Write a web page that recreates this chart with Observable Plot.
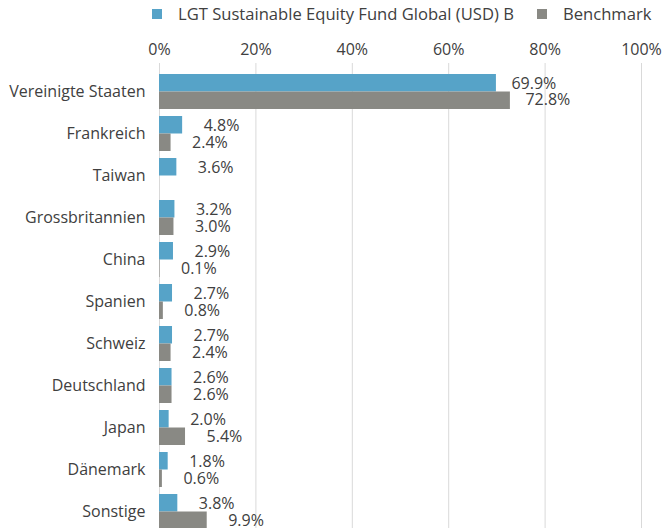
<!DOCTYPE html>
<html><head><meta charset="utf-8">
<script src="https://cdn.jsdelivr.net/npm/d3@7"></script>
<script src="https://cdn.jsdelivr.net/npm/@observablehq/plot@0.6"></script>
<style>
html,body{margin:0;padding:0;background:#fff;overflow:hidden;}
#legend{position:relative;height:30px;width:663px;font-family:"Open Sans",sans-serif;font-size:16.6px;color:#404040;}
#legend .sw{position:absolute;top:9px;width:10px;height:10px;}
#legend .lb{position:absolute;top:3px;line-height:22px;white-space:nowrap;}
</style>
</head><body>
<div id="legend"></div>
<div id="chart"></div>
<script>
const countries = ["Vereinigte Staaten","Frankreich","Taiwan","Grossbritannien","China","Spanien","Schweiz","Deutschland","Japan","Dänemark","Sonstige"];
const fund = [69.9,4.8,3.6,3.2,2.9,2.7,2.7,2.6,2.0,1.8,3.8];
const bench = [72.8,2.4,null,3.0,0.1,0.8,2.4,2.6,5.4,0.6,9.9];
const seriesNames = ["LGT Sustainable Equity Fund Global (USD) B","Benchmark"];
const colors = ["#56a3c8","#898984"];
const xTicks = [0,20,40,60,80,100];

const fundData = countries.map((c,i)=>({country:c,value:fund[i]}));
const benchData = countries.map((c,i)=>({country:c,value:bench[i]})).filter(d=>d.value!=null);

const leg = document.getElementById("legend");
leg.innerHTML = `<div class="sw" style="left:152px;background:${colors[0]}"></div><div class="lb" style="left:178px">${seriesNames[0]}</div>
<div class="sw" style="left:537px;background:${colors[1]}"></div><div class="lb" style="left:563px">${seriesNames[1]}</div>`;

const fmt = d => d.value.toFixed(1) + "%";
const big = d => d.value > 50;
const plot = Plot.plot({
  width: 663,
  height: 510,
  marginLeft: 159,
  marginRight: 22,
  marginTop: 33,
  marginBottom: 0,
  style: {fontFamily: "'Open Sans', sans-serif", fontSize: "16px", color: "#404040", background: "#fff"},
  x: {domain: [0,100], axis: "top", ticks: xTicks, tickFormat: d => d + "%", tickSize: 0, tickPadding: 9, grid: false, label: null},
  y: {domain: countries, paddingInner: 0.17, paddingOuter: 0.2, tickSize: 0, tickPadding: 14, label: null},
  marks: [
    Plot.ruleX(xTicks, {stroke: "#d9d9d9", strokeWidth: 1}),
    Plot.barX(fundData, {y: "country", x: "value", fill: colors[0], insetBottom: 17.5}),
    Plot.barX(benchData, {y: "country", x: "value", fill: colors[1], insetTop: 17.5}),
    Plot.text(fundData.filter(d=>!big(d)), {y: "country", x: "value", text: fmt, dx: 21, dy: -8, textAnchor: "start", fill: "#404040"}),
    Plot.text(benchData.filter(d=>!big(d)), {y: "country", x: "value", text: fmt, dx: 21, dy: 8.5, textAnchor: "start", fill: "#404040"}),
    Plot.text(fundData.filter(big), {y: "country", x: "value", text: fmt, dx: 15, dy: -8, textAnchor: "start", fill: "#404040"}),
    Plot.text(benchData.filter(big), {y: "country", x: "value", text: fmt, dx: 15, dy: 8, textAnchor: "start", fill: "#404040"})
  ]
});
document.getElementById("chart").appendChild(plot);
</script>
</body></html>
